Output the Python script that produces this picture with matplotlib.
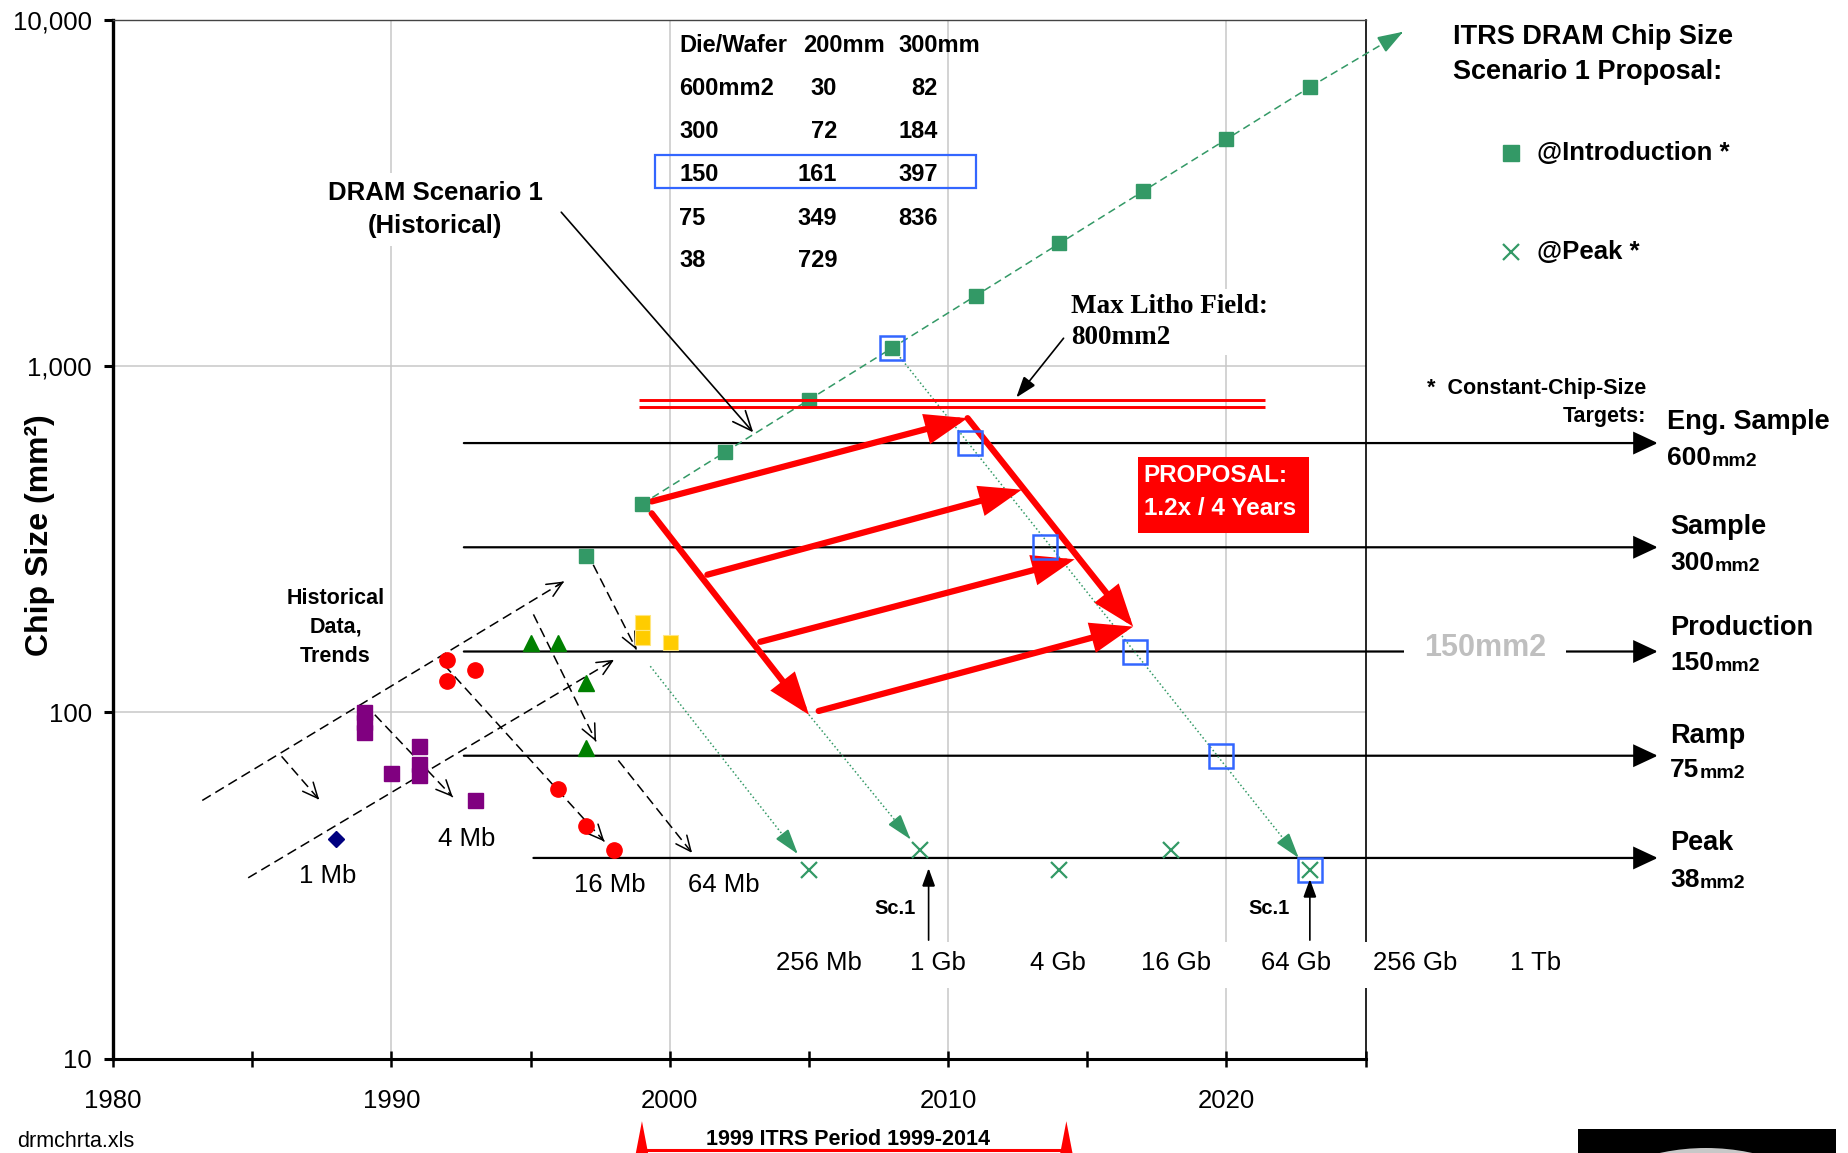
import numpy as np
import matplotlib.pyplot as plt
from matplotlib.patches import Rectangle, Polygon, Ellipse
from matplotlib import transforms
from matplotlib.ticker import FuncFormatter, FixedLocator, NullLocator

plt.rcParams['font.family'] = ['Liberation Sans', 'DejaVu Sans']

# ---- values (year, chip size in mm2) ----
intro_years = [1999, 2002, 2005, 2008, 2011, 2014, 2017, 2020, 2023]
intro_size = [400, 566, 800, 1131, 1600, 2263, 3200, 4525, 6400]
intro_next = (2026.35, 9250)  # where the dashed trend arrow ends

peak_years = [2005, 2009, 2014, 2018, 2023]
peak_size = [35, 40, 35, 40, 35]

target_years = [2008, 2010.8, 2013.5, 2016.7, 2019.8, 2023]
target_size = [1131, 600, 300, 150, 75, 35]

# historical data
mb1_years = [1988]
mb1_size = [43]
mb4_years = [1989, 1989, 1989, 1990, 1991, 1991, 1991, 1993]
mb4_size = [100, 94, 88, 67, 80, 71, 66, 56]
mb16_years = [1992, 1992, 1993, 1996, 1997, 1998]
mb16_size = [142, 123, 133, 60, 47, 40]
mb64_years = [1995, 1996, 1997, 1997]
mb64_size = [159, 159, 122, 79]
mb256_years = [1999, 1999, 2000]
mb256_size = [183, 165, 160]
gb1_years = [1997]
gb1_size = [283]

litho_size = [800, 765]
litho_years = [1998.9, 2021.4]

target_levels = [600, 300, 150, 75, 38]
target_from = [1992.6, 1992.6, 1992.6, 1992.6, 1995.1]
target_to = 2035.5
target_names = ["Eng. Sample", "Sample", "Production", "Ramp", "Peak"]
target_nums = ["600", "300", "150", "75", "38"]

# arrows as (x0, y0, x1, y1)
trend_arrows = [
    (1983.2, 55.7, 1996.2, 239),
    (1984.85, 33.3, 1998.0, 142),
    (1986.05, 74.7, 1987.4, 56),
    (1989.4, 98.5, 1992.2, 57),
    (1991.9, 137, 1997.65, 42.4),
    (1995.1, 192, 1997.35, 82.5),
    (1998.15, 72.7, 2000.8, 39.3),
    (1997.25, 267, 1998.8, 152),
]
red_arrows = [
    (1999.35, 407, 2010.7, 708),
    (2010.7, 708, 2016.65, 177),
    (1999.35, 376, 2005.0, 98.5),
    (2001.35, 250, 2012.65, 440),
    (2003.25, 160, 2014.55, 277),
    (2005.35, 101, 2016.65, 177),
]
peak_arrows = [
    (1999.3, 136, 2004.6, 39),
    (2005.0, 98.5, 2008.65, 43),
    (2008, 1131, 2022.6, 38),
]
sc1_arrows = [(2009.3, 22, 2009.3, 35.5), (2023.0, 22, 2023.0, 33)]
sc1_text = [(2008.1, 27.1), (2021.55, 27.1)]

density_labels = ["1 Mb", "4 Mb", "16 Mb", "64 Mb", "256 Mb", "1 Gb",
                  "4 Gb", "16 Gb", "64 Gb", "256 Gb", "1 Tb"]
density_x = [1987.7, 1992.7, 1997.85, 2001.95, 2005.35, 2009.65,
             2013.95, 2018.2, 2022.5, 2026.8, 2031.1]
density_y = [33.7, 43, 31.7, 31.7, 18.9, 18.9, 18.9, 18.9, 18.9, 18.9, 18.9]

table_head = ["Die/Wafer", "200mm", "300mm"]
table_die = ["600mm2", "300", "150", "75", "38"]
table_200 = ["30", "72", "161", "349", "729"]
table_300 = ["82", "184", "397", "836", ""]

GREEN = '#339966'
BLUE = '#3366FF'
RED = '#FF0000'

# layout measured on a 1568x978 view of the target
RW, RH = 1568, 978
L, R, T, B = 96, 1158, 17, 898


def af(px, py):
    return ((px - L) / (R - L), (B - py) / (B - T))


fig = plt.figure(figsize=(18.49, 11.53), dpi=100)
ax = fig.add_axes([L / RW, 1 - B / RH, (R - L) / RW, (B - T) / RH])
ax.set_xlim(1980, 2025)
ax.set_yscale('log')
ax.set_ylim(10, 10000)

ax.xaxis.set_major_locator(FixedLocator(np.arange(1980, 2026, 5)))
ax.xaxis.set_major_formatter(FuncFormatter(
    lambda v, p: f"{int(round(v))}" if round(v) % 10 == 0 else ""))
ax.yaxis.set_major_locator(FixedLocator([10, 100, 1000, 10000]))
ax.yaxis.set_minor_locator(NullLocator())
ax.yaxis.set_major_formatter(FuncFormatter(lambda v, p: f"{v:,.0f}"))
ax.tick_params(axis='x', direction='inout', length=11.5, width=1.8, pad=15.8, labelsize=18.5)
ax.tick_params(axis='y', direction='out', length=6.8, width=2.2, pad=8.7, labelsize=18.5)
ax.spines['left'].set_linewidth(2.4)
ax.spines['bottom'].set_linewidth(2.2)
ax.spines['top'].set_linewidth(1.0)
ax.spines['top'].set_color('#444444')
ax.spines['right'].set_linewidth(1.2)

for yr in [1990, 2000, 2010, 2020]:
    ax.axvline(yr, color='#C8C8C8', lw=1.1, zorder=0.5)
for v in [100, 1000]:
    ax.axhline(v, color='#C8C8C8', lw=1.1, zorder=0.5)

fig.text(34 / RW, 1 - 454 / RH, "Chip Size (mm²)", rotation=90, ha='center', va='center',
         fontsize=23, weight='bold')


def arrow(x0, y0, x1, y1, color, lw, style, z=4, ms=10):
    ax.annotate('', xy=(x1, y1), xytext=(x0, y0), annotation_clip=False, zorder=z,
                arrowprops=dict(arrowstyle=style, color=color, lw=lw, shrinkA=0, shrinkB=0,
                                mutation_scale=ms, joinstyle='miter'))


def broken_arrow(x0, y0, x1, y1, color, lw, ls, style, z=3.5):
    # line drawn with its own dash pattern, head drawn solid at the tip
    ax.plot([x0, x1], [y0, y1], color=color, lw=lw, ls=ls, zorder=z, clip_on=False)
    f = 0.02
    xb = x1 - f * (x1 - x0)
    yb = 10 ** (np.log10(y1) - f * (np.log10(y1) - np.log10(y0)))
    arrow(xb, yb, x1, y1, color, lw, style, z=z)


# constant chip size target lines
for lev, x0 in zip(target_levels, target_from):
    arrow(x0, lev, target_to, lev, 'black', 1.6, '-|>,head_length=1.5,head_width=0.7', z=3)

# max litho field double line
for v in litho_size:
    ax.plot(litho_years, [v, v], color=RED, lw=2.1, zorder=5.2, solid_capstyle='butt')

# historical trend arrows
for x0, y0, x1, y1 in trend_arrows:
    broken_arrow(x0, y0, x1, y1, 'black', 1.1, (0, (6.5, 3.5)), '->,head_length=1.1,head_width=0.5')

# green dotted arrows to peak
for x0, y0, x1, y1 in peak_arrows:
    broken_arrow(x0, y0, x1, y1, GREEN, 1.1, ':', '-|>,head_length=1.6,head_width=0.5')

# introduction trend
ax.plot(intro_years, intro_size, color=GREEN, lw=1.1, ls=(0, (5, 3)), marker='s', ms=10.4,
        mec=GREEN, mfc=GREEN, zorder=5)
broken_arrow(intro_years[-1], intro_size[-1], intro_next[0], intro_next[1], GREEN, 1.1,
             (0, (5, 3)), '-|>,head_length=1.6,head_width=0.55')

# proposal arrows
for x0, y0, x1, y1 in red_arrows:
    arrow(x0, y0, x1, y1, RED, 4.5, '-|>,head_length=2.2,head_width=0.8', z=4.5)

# markers
ax.plot(peak_years, peak_size, ls='none', marker='x', ms=11, mew=1.6, color=GREEN, zorder=5)
ax.plot(target_years, target_size, ls='none', marker='s', ms=17.6, mew=1.8, mfc='none',
        mec=BLUE, zorder=5.5)
ax.plot(mb1_years, mb1_size, ls='none', marker='D', ms=8, color='#000080', zorder=5)
ax.plot(mb4_years, mb4_size, ls='none', marker='s', ms=10.8, color='#800080', zorder=5)
ax.plot(mb16_years, mb16_size, ls='none', marker='o', ms=11, color=RED, zorder=5)
ax.plot(mb64_years, mb64_size, ls='none', marker='^', ms=12, color='#008000', zorder=5)
ax.plot(mb256_years, mb256_size, ls='none', marker='s', ms=10.8, color='#FFCC00',
        mec='#FFE680', mew=0.8, zorder=5)
ax.plot(gb1_years, gb1_size, ls='none', marker='s', ms=10.4, color=GREEN, zorder=5)

# Sc.1 pointers
for (x0, y0, x1, y1), (tx, ty) in zip(sc1_arrows, sc1_text):
    arrow(x0, y0, x1, y1, 'black', 1.2, '-|>,head_length=1.1,head_width=0.4', z=6)
    ax.text(tx, ty, "Sc.1", fontsize=14.5, weight='bold', ha='center', va='center', zorder=6)

# density labels (white strip breaks the grid lines under the lower row)
sx0, sy0 = af(650, 838)
sx1, sy1 = af(1330, 799)
ax.add_patch(Rectangle((sx0, sy0), sx1 - sx0, sy1 - sy0, transform=ax.transAxes,
                       fc='white', ec='none', zorder=2.6, clip_on=False))
for lab, x, y in zip(density_labels, density_x, density_y):
    ax.text(x, y, lab, fontsize=18.5, ha='center', va='center', zorder=6)

# die per wafer table
hx = [576, 681, 762]
for h, x in zip(table_head, hx):
    ax.text(*af(x, 38.5), h, transform=ax.transAxes, fontsize=17, weight='bold', va='center')
row_y = [75, 111.5, 148.4, 185, 221]
for a, b, c, y in zip(table_die, table_200, table_300, row_y):
    ax.text(*af(576, y), a, transform=ax.transAxes, fontsize=17, weight='bold', va='center')
    ax.text(*af(710, y), b, transform=ax.transAxes, fontsize=17, weight='bold', va='center', ha='right')
    ax.text(*af(795, y), c, transform=ax.transAxes, fontsize=17, weight='bold', va='center', ha='right')
bx0, by0 = af(555.5, 159.7)
bx1, by1 = af(827.5, 131.4)
ax.add_patch(Rectangle((bx0, by0), bx1 - bx0, by1 - by0, transform=ax.transAxes,
                       fc='none', ec=BLUE, lw=1.6, zorder=6))

# callouts
ax.text(*af(369, 177.5), "DRAM Scenario 1\n(Historical)", transform=ax.transAxes, fontsize=18.5,
        weight='bold', ha='center', va='center', linespacing=1.5, zorder=2,
        bbox=dict(boxstyle='square,pad=0.3', fc='white', ec='none'))
arrow(1996.1, 2786, 2003.0, 644, 'black', 1.2, '->,head_length=1.4,head_width=0.6', z=6)

ax.text(*af(908, 273), "Max Litho Field:\n800mm2", transform=ax.transAxes, fontsize=19.5,
        weight='bold', family='Liberation Serif', ha='left', va='center', linespacing=1.3,
        zorder=2, bbox=dict(boxstyle='square,pad=0.2', fc='white', ec='none'))
arrow(2014.15, 1205, 2012.45, 812, 'black', 1.2, '-|>,head_length=1.3,head_width=0.45', z=6)

ax.text(*af(284.5, 532), "Historical\nData,\nTrends", transform=ax.transAxes, fontsize=15.5,
        weight='bold', ha='center', va='center', linespacing=1.5, zorder=2,
        bbox=dict(boxstyle='square,pad=0.15', fc='white', ec='none'))

px0, py0 = af(965, 451.7)
px1, py1 = af(1110, 387.8)
ax.add_patch(Rectangle((px0, py0), px1 - px0, py1 - py0, transform=ax.transAxes,
                       fc=RED, ec='none', zorder=6))
ax.text(*af(970, 403), "PROPOSAL:", transform=ax.transAxes, fontsize=17.5, weight='bold',
        color='white', va='center', zorder=7)
ax.text(*af(970, 431), "1.2x / 4 Years", transform=ax.transAxes, fontsize=17.5, weight='bold',
        color='white', va='center', zorder=7)

# right-hand titles and legend
ax.text(*af(1232, 31), "ITRS DRAM Chip Size", transform=ax.transAxes, fontsize=19.5,
        weight='bold', va='center')
ax.text(*af(1232, 61), "Scenario 1 Proposal:", transform=ax.transAxes, fontsize=19.5,
        weight='bold', va='center')
ax.plot(*af(1281, 129.5), marker='s', ms=11, color=GREEN, transform=ax.transAxes, clip_on=False)
ax.text(*af(1303, 129.5), "@Introduction *", transform=ax.transAxes, fontsize=18.5,
        weight='bold', va='center')
ax.plot(*af(1281, 213.4), marker='x', ms=12, mew=1.6, color=GREEN, transform=ax.transAxes,
        clip_on=False)
ax.text(*af(1303, 213.4), "@Peak *", transform=ax.transAxes, fontsize=18.5,
        weight='bold', va='center')

ax.text(*af(1396, 329.3), "*  Constant-Chip-Size", transform=ax.transAxes, fontsize=15.5,
        weight='bold', va='center', ha='right')
ax.text(*af(1396, 353.3), "Targets:", transform=ax.transAxes, fontsize=15.5,
        weight='bold', va='center', ha='right')

name_y = [357.6, 446.6, 532.8, 624.7, 715.2]
num_y = [388.7, 477.7, 562.5, 653, 746.2]
name_x = [1414, 1416.5, 1416.5, 1416.5, 1416.5]
for name, num, nx, ny, my in zip(target_names, target_nums, name_x, name_y, num_y):
    ax.text(*af(nx, ny), name, transform=ax.transAxes, fontsize=19.5, weight='bold', va='center')
    t = ax.text(*af(nx, my), num, transform=ax.transAxes, fontsize=19, weight='bold', va='center')
    ax.annotate("mm2", xy=(1, 0), xycoords=t, fontsize=14, weight='bold', va='bottom', ha='left')

ax.text(*af(1259.5, 549.8), "150mm2", transform=ax.transAxes, fontsize=22, weight='bold',
        color='#BFBFBF', ha='center', va='center', zorder=3.5,
        bbox=dict(boxstyle='square,pad=0.65', fc='white', ec='none'))

# footer
fig.text(14.3 / RW, 1 - 968 / RH, "drmchrta.xls", fontsize=15.5, va='center', ha='left')
bt = transforms.blended_transform_factory(ax.transData, fig.transFigure)
period = [1999, 2014.25]
ax.plot(period, [1 - 975.5 / RH] * 2, color=RED, lw=2.2, transform=bt, clip_on=False)
for x in period:
    ax.add_patch(Polygon([(x - 0.22, 0), (x + 0.22, 0), (x, 1 - 951 / RH)], closed=True,
                         transform=bt, fc=RED, ec='none', clip_on=False))
ax.text(2006.4, 1 - 966.7 / RH, "1999 ITRS Period 1999-2014", transform=bt, fontsize=15.5,
        weight='bold', ha='center', va='center')

fig.add_artist(Rectangle((1578 / 1849, 0), (1836 - 1578) / 1849, 24 / 1153,
                         transform=fig.transFigure, fc='black', ec='none'))
fig.add_artist(Ellipse((1706 / 1849, -213 / 1153), 436 / 1849, 436 / 1153,
                       transform=fig.transFigure, fc='#C8C8C8', ec='none'))

fig.savefig('out.png', dpi=100)
